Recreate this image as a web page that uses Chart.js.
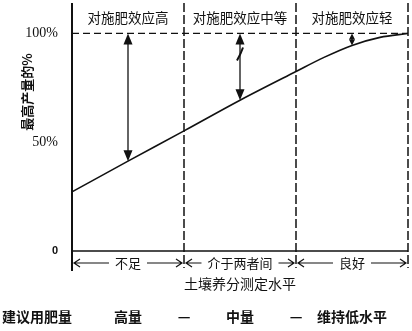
<!DOCTYPE html>
<html>
<head>
<meta charset="utf-8">
<script src="https://cdn.jsdelivr.net/npm/chart.js@4/dist/chart.umd.min.js"></script>
<style>
html,body{margin:0;padding:0;background:#fff;}
#wrap{width:412px;height:331px;position:relative;}
</style>
</head>
<body>
<div id="wrap"><canvas id="c"></canvas></div>
<script>
// ---- data ----
const categories = ['不足', '介于两者间', '良好'];
const effectLabels = ['对施肥效应高', '对施肥效应中等', '对施肥效应轻'];
const adviceLabels = ['高量', '中量', '维持低水平'];
const adviceTitle = '建议用肥量';
const xTitle = '土壤养分测定水平';
const yTitle = '最高产量的%';
const xValues = [0, 1, 2, 3, 4, 4.5, 5, 5.5, 6];
const yieldPct = [27.2, 41.3, 55.2, 69.3, 82.5, 89, 94.5, 98.2, 100];
const yTicks = [0, 50, 100];
const boundaries = [0, 2, 4, 6];
const arrowX = [1, 3, 5];
const maxLevel = 100;

const CJK = '"Noto Sans CJK SC", "Noto Sans", sans-serif';
const INK = '#111';

function head(ctx, x, y, dir, w, l) {
  ctx.beginPath();
  ctx.moveTo(x, y);
  ctx.lineTo(x - w / 2, y - dir * l);
  ctx.lineTo(x + w / 2, y - dir * l);
  ctx.closePath();
  ctx.fill();
}

const decor = {
  id: 'decor',
  beforeDatasetsDraw(chart) {
    const ctx = chart.ctx, xs = chart.scales.x, ys = chart.scales.y;
    const top = chart.chartArea.top, bot = ys.getPixelForValue(0);
    ctx.save();
    ctx.strokeStyle = INK;
    ctx.lineWidth = 2;
    ctx.beginPath();
    ctx.moveTo(xs.getPixelForValue(boundaries[0]), top);
    ctx.lineTo(xs.getPixelForValue(boundaries[0]), bot + 20);
    ctx.stroke();
    ctx.lineWidth = 1.5;
    ctx.setLineDash([9, 3]);
    boundaries.slice(1).forEach(b => {
      const px = xs.getPixelForValue(b);
      ctx.beginPath();
      ctx.moveTo(px, top);
      ctx.lineTo(px, bot + 17);
      ctx.stroke();
    });
    ctx.lineWidth = 1.2;
    ctx.setLineDash([7, 4]);
    const py = ys.getPixelForValue(maxLevel);
    ctx.beginPath();
    ctx.moveTo(xs.getPixelForValue(boundaries[0]), py);
    ctx.lineTo(xs.getPixelForValue(boundaries[3]), py);
    ctx.stroke();
    ctx.setLineDash([]);
    ctx.lineWidth = 1.5;
    ctx.beginPath();
    ctx.moveTo(xs.getPixelForValue(boundaries[0]), bot);
    ctx.lineTo(xs.getPixelForValue(boundaries[3]), bot);
    ctx.stroke();
    ctx.restore();
  },
  afterDatasetsDraw(chart) {
    const ctx = chart.ctx, xs = chart.scales.x, ys = chart.scales.y;
    const bot = ys.getPixelForValue(0);
    const py100 = ys.getPixelForValue(maxLevel);
    ctx.save();
    ctx.strokeStyle = INK;
    ctx.fillStyle = INK;
    arrowX.forEach((ax, i) => {
      const px = xs.getPixelForValue(ax);
      const v = yieldPct[xValues.indexOf(ax)];
      const pyc = ys.getPixelForValue(v);
      const small = i === 2;
      const w = small ? 6 : 9, l = small ? 6 : 11;
      ctx.lineWidth = 1.3;
      ctx.beginPath();
      ctx.moveTo(px, py100 + l - 1);
      ctx.lineTo(px, pyc - l + 1);
      ctx.stroke();
      head(ctx, px, py100, -1, w, l);
      head(ctx, px, pyc, 1, w, l);
      if (i === 1) {
        ctx.lineWidth = 2;
        ctx.beginPath();
        ctx.moveTo(px - 3, py100 + 27);
        ctx.quadraticCurveTo(px + 1, py100 + 20, px + 3, py100 + 14);
        ctx.stroke();
      }
    });
    ctx.font = '13.5px ' + CJK;
    ctx.textAlign = 'center';
    ctx.textBaseline = 'middle';
    effectLabels.forEach((t, i) => {
      const cx = xs.getPixelForValue((boundaries[i] + boundaries[i + 1]) / 2);
      ctx.fillText(t, cx, 18);
    });
    const ay = bot + 12;
    ctx.font = '13px ' + CJK;
    ctx.lineWidth = 1.2;
    categories.forEach((t, i) => {
      const x0 = xs.getPixelForValue(boundaries[i]) + 2;
      const x1 = xs.getPixelForValue(boundaries[i + 1]) - 2;
      const cx = (x0 + x1) / 2;
      const tw = ctx.measureText(t).width;
      ctx.fillText(t, cx, ay);
      ctx.beginPath();
      ctx.moveTo(x0, ay); ctx.lineTo(cx - tw / 2 - 6, ay);
      ctx.moveTo(cx + tw / 2 + 6, ay); ctx.lineTo(x1, ay);
      ctx.moveTo(x0 + 6, ay - 4); ctx.lineTo(x0, ay); ctx.lineTo(x0 + 6, ay + 4);
      ctx.moveTo(x1 - 6, ay - 4); ctx.lineTo(x1, ay); ctx.lineTo(x1 - 6, ay + 4);
      ctx.stroke();
    });
    ctx.font = '14px ' + CJK;
    ctx.fillText(xTitle, xs.getPixelForValue(3), bot + 33);
    const ry = 317;
    ctx.font = 'bold 14px ' + CJK;
    ctx.textAlign = 'left';
    ctx.fillText(adviceTitle, 2, ry);
    ctx.textAlign = 'center';
    adviceLabels.forEach((t, i) => {
      const cx = xs.getPixelForValue((boundaries[i] + boundaries[i + 1]) / 2);
      ctx.fillText(t, cx, ry);
    });
    ctx.fillText('—', xs.getPixelForValue(boundaries[1]), ry);
    ctx.fillText('—', xs.getPixelForValue(boundaries[2]), ry);
    ctx.save();
    ctx.translate(27, 92);
    ctx.rotate(-Math.PI / 2);
    ctx.font = 'bold 13px ' + CJK;
    ctx.fillText(yTitle, 0, 0);
    ctx.restore();
    ctx.restore();
  }
};

new Chart(document.getElementById('c'), {
  type: 'line',
  data: {
    datasets: [{
      data: xValues.map((x, i) => ({ x: x, y: yieldPct[i] })),
      borderColor: INK,
      borderWidth: 1.6,
      pointRadius: 0,
      cubicInterpolationMode: 'monotone',
      fill: false
    }]
  },
  options: {
    responsive: true,
    maintainAspectRatio: false,
    devicePixelRatio: 1,
    animation: false,
    layout: { padding: { top: 3, right: 4, bottom: 80, left: 0 } },
    plugins: { legend: { display: false }, tooltip: { enabled: false } },
    scales: {
      x: { type: 'linear', min: 0, max: 6, display: false },
      y: {
        type: 'linear', min: 0, max: 114,
        grid: { display: false },
        border: { display: false },
        afterBuildTicks: s => { s.ticks = yTicks.map(v => ({ value: v })); },
        afterFit: s => { s.width = 72; s.paddingTop = 0; s.paddingBottom = 0; },
        ticks: {
          padding: 6,
          color: INK,
          font: c => (c.tick && c.tick.value === 0)
            ? { family: '"Liberation Sans", sans-serif', size: 11, weight: 'bold' }
            : { family: '"Liberation Serif", serif', size: 14 },
          callback: v => v === 0 ? '0' : v + '%'
        }
      }
    }
  },
  plugins: [decor]
});
</script>
</body>
</html>
